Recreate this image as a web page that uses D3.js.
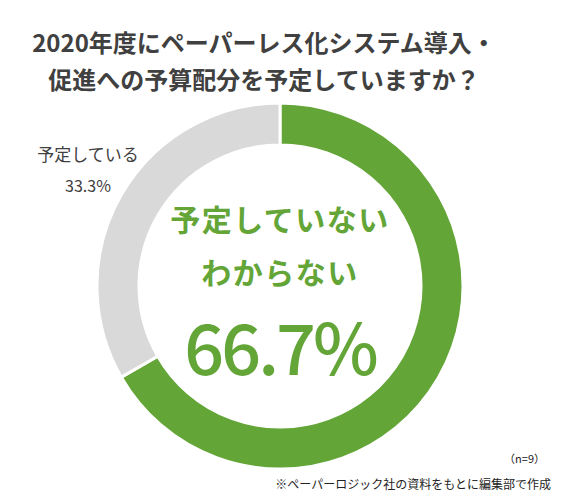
<!DOCTYPE html>
<html>
<head>
<meta charset="utf-8">
<script src="https://cdn.jsdelivr.net/npm/d3@7"></script>
<style>
    body { margin: 0; background: #fff; }
    text { font-family: 'Noto Sans CJK JP', 'Noto Sans', sans-serif; }
</style>
</head>
<body>
<div id="chart"></div>
<script>
var categories = ['予定していない・わからない', '予定している'];
var values = [66.7, 33.3];
var colors = ['#63a537', '#d9d9d9'];
var titleLines = ['2020年度にペーパーレス化システム導入・', '促進への予算配分を予定していますか？'];
var centerLines = ['予定していない', 'わからない'];
var sampleNote = '（n=9）';
var sourceNote = '※ペーパーロジック社の資料をもとに編集部で作成';

var width = 568,
    height = 501;
var cx = 280,
    cy = 286,
    outerR = 183,
    innerR = 141;

var svg = d3
    .select('#chart')
    .append('svg')
    .attr('width', width)
    .attr('height', height);

// title
svg.selectAll('.title')
    .data(titleLines)
    .enter()
    .append('text')
    .attr('class', 'title')
    .attr('x', 264)
    .attr('y', (d, i) => 41 + i * 37)
    .attr('text-anchor', 'middle')
    .attr('dominant-baseline', 'central')
    .attr('font-size', 24)
    .attr('font-weight', 'bold')
    .attr('fill', '#404040')
    .text(d => d);

var data = categories.map((c, i) => ({ key: c, value: values[i] }));

var pie = d3
    .pie()
    .sort(null)
    .value(d => d.value);

var arc = d3.arc().innerRadius(innerR).outerRadius(outerR);

var g = svg.append('g').attr('transform', 'translate(' + cx + ',' + cy + ')');

g.selectAll('.slice')
    .data(pie(data))
    .enter()
    .append('path')
    .attr('class', 'slice')
    .attr('d', arc)
    .attr('fill', (d, i) => colors[i])
    .attr('stroke', '#fff')
    .attr('stroke-width', 3);

// center label (big slice)
g.selectAll('.center')
    .data(centerLines)
    .enter()
    .append('text')
    .attr('class', 'center')
    .attr('x', 0)
    .attr('y', (d, i) => -68 + i * 53)
    .attr('text-anchor', 'middle')
    .attr('dominant-baseline', 'central')
    .attr('font-size', 30)
    .attr('font-weight', 'bold')
    .attr('letter-spacing', 1.5)
    .attr('fill', colors[0])
    .text(d => d);

g.append('text')
    .attr('x', 0)
    .attr('y', 89)
    .attr('text-anchor', 'middle')
    .attr('font-size', 70)
    .attr('font-weight', 500)
    .attr('letter-spacing', -3)
    .attr('font-family', 'Roboto, sans-serif')
    .attr('fill', colors[0])
    .text(values[0].toFixed(1) + '%');

// outside label (small slice)
var small = svg.append('g').attr('transform', 'translate(88,0)');
small.append('text')
    .attr('y', 153)
    .attr('text-anchor', 'middle')
    .attr('dominant-baseline', 'central')
    .attr('font-size', 17)
    .attr('fill', '#404040')
    .text(categories[1]);
small.append('text')
    .attr('y', 185)
    .attr('text-anchor', 'middle')
    .attr('dominant-baseline', 'central')
    .attr('font-size', 16)
    .attr('fill', '#404040')
    .text(values[1].toFixed(1) + '%');

svg.append('text')
    .attr('x', 545)
    .attr('y', 458)
    .attr('text-anchor', 'end')
    .attr('dominant-baseline', 'central')
    .attr('font-size', 11)
    .attr('fill', '#222')
    .text(sampleNote);

svg.append('text')
    .attr('x', 551)
    .attr('y', 483)
    .attr('text-anchor', 'end')
    .attr('dominant-baseline', 'central')
    .attr('font-size', 12)
    .attr('fill', '#222')
    .text(sourceNote);
</script>
</body>
</html>
